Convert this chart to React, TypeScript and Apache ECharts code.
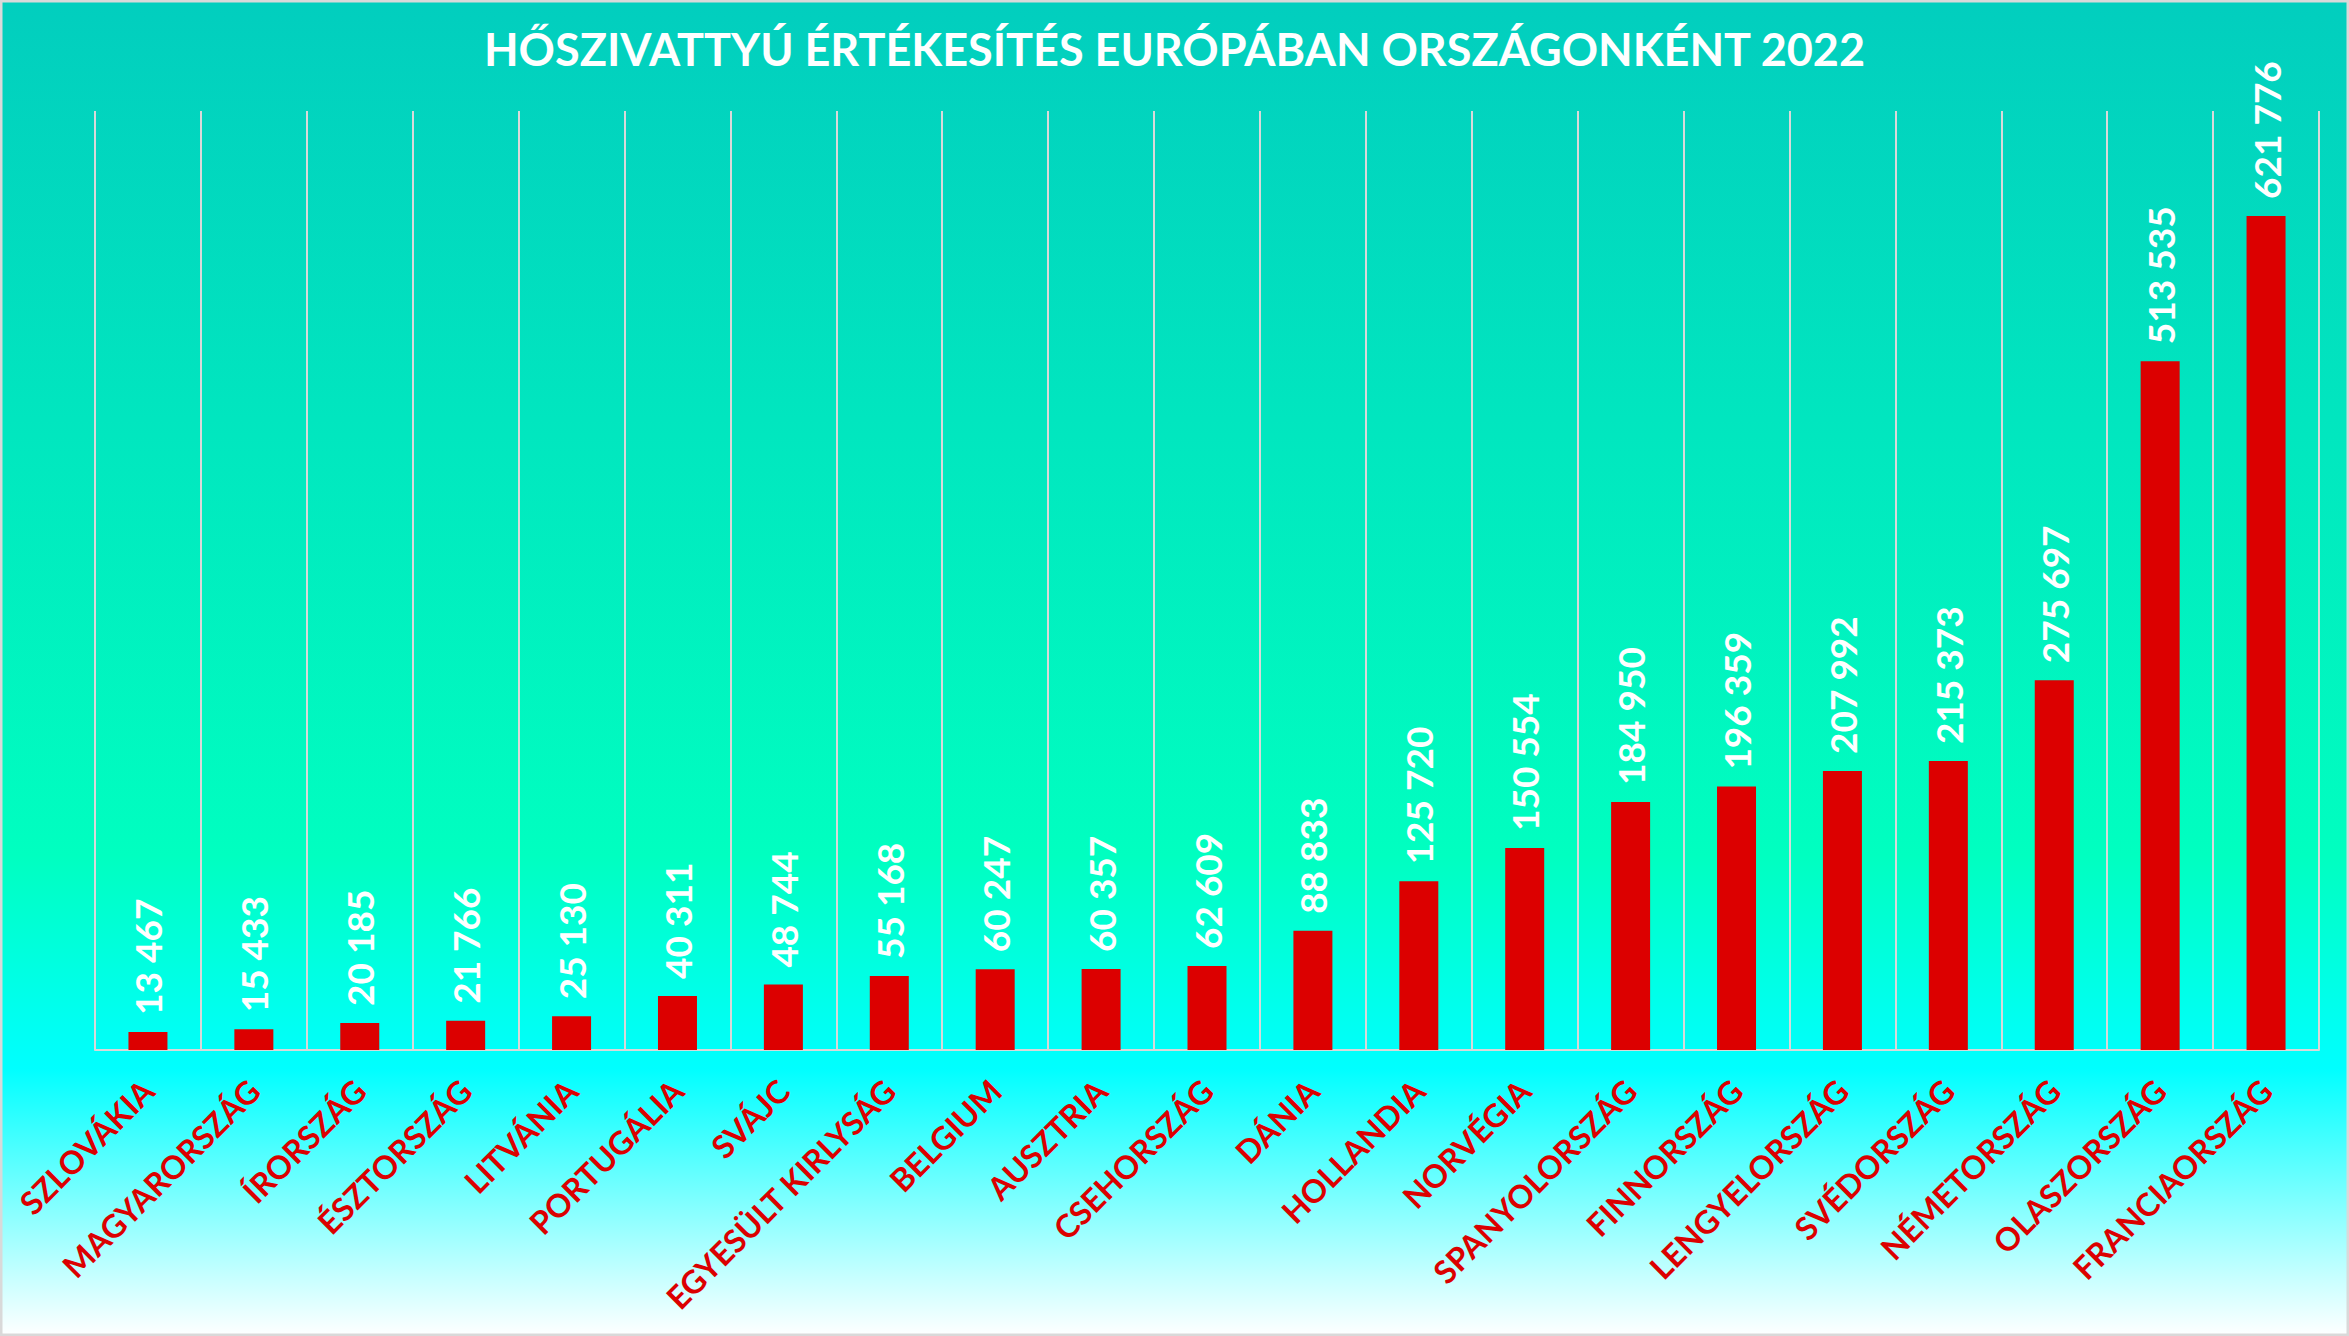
import React, { useEffect, useRef } from "react";
import * as echarts from "echarts";

const TITLE = "HŐSZIVATTYÚ ÉRTÉKESÍTÉS EURÓPÁBAN ORSZÁGONKÉNT 2022";

const categories = [
  "SZLOVÁKIA",
  "MAGYARORSZÁG",
  "ÍRORSZÁG",
  "ÉSZTORSZÁG",
  "LITVÁNIA",
  "PORTUGÁLIA",
  "SVÁJC",
  "EGYESÜLT KIRLYSÁG",
  "BELGIUM",
  "AUSZTRIA",
  "CSEHORSZÁG",
  "DÁNIA",
  "HOLLANDIA",
  "NORVÉGIA",
  "SPANYOLORSZÁG",
  "FINNORSZÁG",
  "LENGYELORSZÁG",
  "SVÉDORSZÁG",
  "NÉMETORSZÁG",
  "OLASZORSZÁG",
  "FRANCIAORSZÁG",
];

const sales = [
  13467, 15433, 20185, 21766, 25130, 40311, 48744, 55168, 60247, 60357, 62609,
  88833, 125720, 150554, 184950, 196359, 207992, 215373, 275697, 513535, 621776,
];

const W = 2349;
const H = 1336;

function fmt(v: number): string {
  return String(v).replace(/\B(?=(\d{3})+(?!\d))/g, " ");
}

export default function App() {
  const ref = useRef<HTMLDivElement>(null);

  useEffect(() => {
    document.body.style.margin = "0";
    document.body.style.overflow = "hidden";
    if (!ref.current) return;
    const chart = echarts.init(ref.current, undefined, { renderer: "svg" });
    chart.setOption({
      animation: false,
      backgroundColor: "transparent",
      graphic: [
        {
          type: "rect",
          z: -10,
          silent: true,
          shape: { x: 0, y: 0, width: W, height: H },
          style: {
            fill: new echarts.graphic.LinearGradient(0, 0, 0, 1, [
              { offset: 0, color: "#02CEBE" },
              { offset: 0.64, color: "#00FFC0" },
              { offset: 0.8, color: "#00FFFF" },
              { offset: 1, color: "#FFFFFF" },
            ]),
          },
        },
        {
          type: "rect",
          z: 100,
          silent: true,
          shape: { x: 1, y: 1, width: W - 2, height: H - 2 },
          style: { fill: "none", stroke: "#D9D9D9", lineWidth: 3 },
        },
      ],
      title: {
        text: TITLE,
        left: "center",
        top: 21,
        textStyle: {
          color: "#FFFFFF",
          fontFamily: "Lato",
          fontWeight: "bold",
          fontSize: 45,
        },
      },
      grid: {
        left: 95,
        right: 30,
        top: 111,
        bottom: 286,
        containLabel: false,
      },
      xAxis: {
        type: "category",
        data: categories,
        boundaryGap: true,
        axisLine: { show: true, lineStyle: { color: "#D9D9D9", width: 2 } },
        axisTick: { show: false },
        splitLine: { show: true, lineStyle: { color: "#D9D9D9", width: 2 } },
        axisLabel: {
          interval: 0,
          rotate: 45,
          margin: 35,
          color: "#DC0000",
          fontFamily: "Lato",
          fontWeight: "bold",
          fontSize: 32,
        },
      },
      yAxis: {
        type: "value",
        min: 0,
        max: 700000,
        show: false,
        splitLine: { show: false },
      },
      series: [
        {
          type: "bar",
          data: sales,
          barWidth: 39,
          itemStyle: { color: "#DC0000" },
          label: {
            show: true,
            position: "top",
            rotate: 90,
            align: "left",
            verticalAlign: "middle",
            distance: 17,
            color: "#FFFFFF",
            fontFamily: "Lato",
            fontWeight: "bold",
            fontSize: 37,
            formatter: (p: any) => fmt(p.value),
          },
        },
      ],
    });
    return () => chart.dispose();
  }, []);

  return <div ref={ref} style={{ width: W, height: H }} />;
}
